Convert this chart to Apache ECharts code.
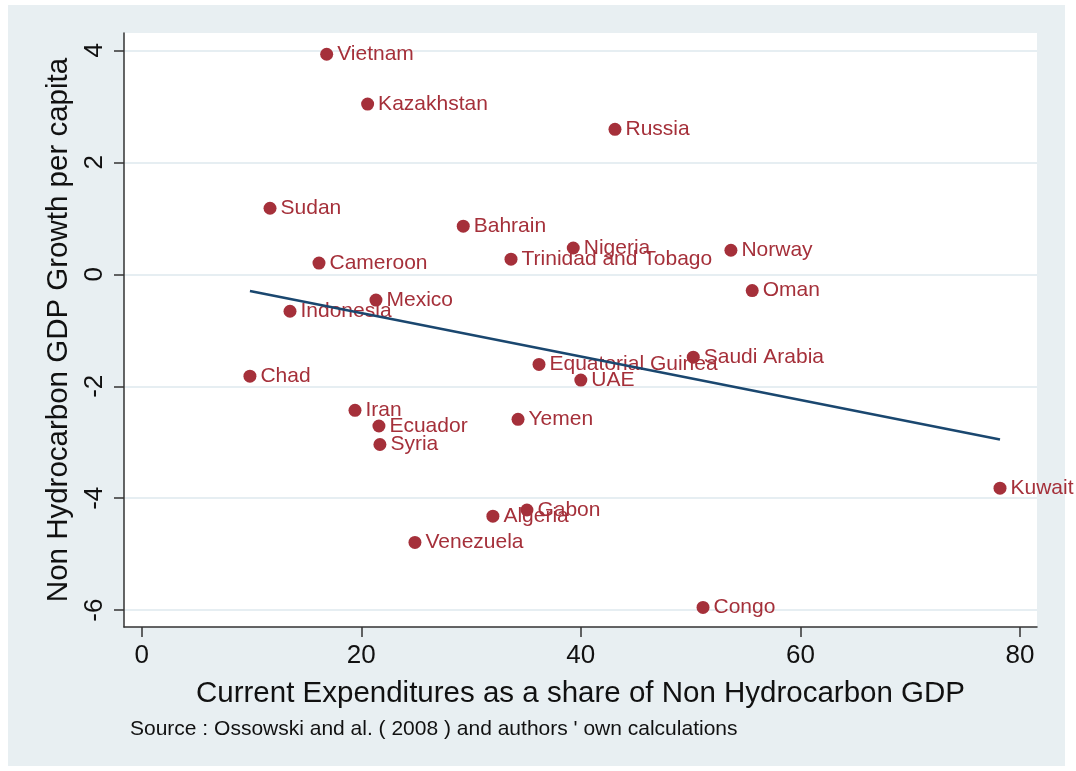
<!DOCTYPE html>
<html>
<head>
<meta charset="utf-8">
<script src="https://cdn.jsdelivr.net/npm/echarts@6/dist/echarts.min.js"></script>
<style>
html,body{margin:0;padding:0;background:#fff;}
#chart{width:1076px;height:771px;}
</style>
</head>
<body>
<div id="chart"></div>
<script>
const countries = ["Vietnam","Kazakhstan","Russia","Sudan","Bahrain","Nigeria","Norway","Cameroon","Trinidad and Tobago","Oman","Mexico","Indonesia","Saudi Arabia","Equatorial Guinea","Chad","UAE","Iran","Yemen","Ecuador","Syria","Kuwait","Gabon","Algeria","Venezuela","Congo"];
const expenditure = [16.85,20.58,43.11,11.69,29.29,39.31,53.67,16.15,33.64,55.61,21.34,13.51,50.24,36.19,9.86,40.0,19.43,34.28,21.61,21.7,78.18,35.09,31.99,24.89,51.13];
const growth = [3.93,3.04,2.59,1.18,0.86,0.47,0.43,0.20,0.27,-0.29,-0.46,-0.66,-1.48,-1.61,-1.82,-1.89,-2.43,-2.59,-2.71,-3.04,-3.82,-4.21,-4.32,-4.79,-5.95];
const fitX = [9.86, 78.18];
const fitY = [-0.30, -2.95];
const xTicks = [0,20,40,60,80];
const yTicks = [-6,-4,-2,0,2,4];

const RED = '#a5303a';
const NAVY = '#1a476f';
const BG = '#e8eff2';
const FONT = 'Liberation Sans, Arial, sans-serif';

const chart = echarts.init(document.getElementById('chart'));
const pts = countries.map((c,i)=>[expenditure[i], growth[i], c]);
const fit = fitX.map((x,i)=>[x, fitY[i]]);

chart.setOption({
  backgroundColor: '#ffffff',
  animation: false,
  graphic: [
    {type:'rect', shape:{x:8,y:5,width:1057,height:761}, style:{fill:BG}, z:-10, silent:true},
    {type:'text', left:130, top:719, style:{text:"Source : Ossowski and al. ( 2008 ) and authors ' own calculations", fontSize:21, fontFamily:FONT, fill:'#111'}}
  ],
  grid: {left:124, top:33, width:913, height:594, show:true, backgroundColor:'#ffffff', borderWidth:0},
  xAxis: {
    type:'value', min:-1.61, max:81.55,
    name:'Current Expenditures as a share of Non Hydrocarbon GDP',
    nameLocation:'middle', nameGap:52,
    nameTextStyle:{fontSize:29.5, color:'#111', fontFamily:FONT},
    axisLine:{show:true, onZero:false, lineStyle:{color:'#333', width:1.5}},
    axisTick:{show:true, length:10, customValues:xTicks, lineStyle:{color:'#333', width:1.5}},
    axisLabel:{customValues:xTicks, fontSize:26, color:'#111', margin:16, fontFamily:FONT},
    splitLine:{show:false}
  },
  yAxis: {
    type:'value', min:-6.30, max:4.31,
    name:'Non Hydrocarbon GDP Growth per capita',
    nameLocation:'middle', nameGap:50, nameRotate:90,
    nameTextStyle:{fontSize:29.5, color:'#111', fontFamily:FONT},
    axisLine:{show:true, onZero:false, lineStyle:{color:'#333', width:1.5}},
    axisTick:{show:true, length:10, customValues:yTicks, lineStyle:{color:'#333', width:1.5}},
    axisLabel:{customValues:yTicks, rotate:90, fontSize:26, color:'#111', margin:16, fontFamily:FONT},
    splitLine:{show:true, lineStyle:{color:'#e6eef2', width:2}}
  },
  series: [
    {
      type:'line', data:fit, showSymbol:false, symbol:'none',
      lineStyle:{color:NAVY, width:2.5}, z:3, silent:true
    },
    {
      type:'scatter', data:pts, symbol:'circle', symbolSize:13,
      itemStyle:{color:RED, opacity:1},
      label:{show:true, position:'right', distance:4, formatter:p=>p.data[2], color:RED, fontSize:21, fontFamily:FONT},
      labelLayout:{hideOverlap:false},
      z:2
    }
  ]
});
</script>
</body>
</html>
